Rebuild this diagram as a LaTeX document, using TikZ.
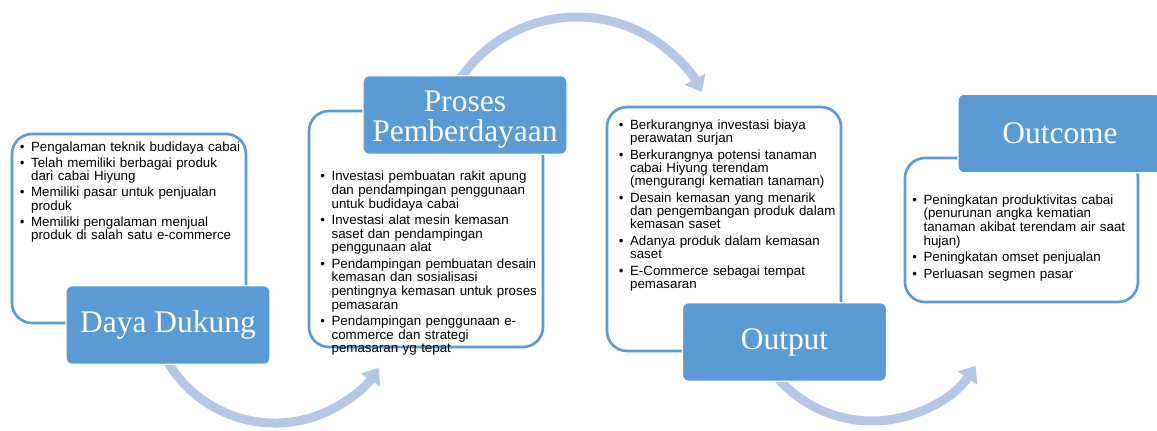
\documentclass[tikz,border=0pt]{standalone}
\usepackage{fontspec}
\setmainfont{Liberation Sans}
\newfontfamily\titlefont{Liberation Serif}
\usepackage{tikz}
\usetikzlibrary{arrows.meta}
\definecolor{boxblue}{HTML}{5B9BD5}
\definecolor{flowblue}{HTML}{B4C7E7}
\newcommand{\itm}[1]{\par\noindent\hangindent=8.5pt\hangafter=1\makebox[8.5pt][l]{\textbullet}{\let\\\newline#1}\par}
\newcommand{\low}[1]{\raisebox{-3.5pt}[\height][\depth]{#1}}
\tikzset{head/.style={rectangle,rounded corners=4.5pt,fill=boxblue,draw=white,line width=1pt,text=white,minimum width=153pt,minimum height=59pt,inner sep=0pt,align=center,font=\titlefont\fontsize{23.6}{22.5}\selectfont}}
\tikzset{panel/.style={rectangle,rounded corners=15pt,draw=boxblue,line width=2pt,fill=white,minimum width=175.5pt,inner sep=0pt}}
\tikzset{items/.style={anchor=north west,inner sep=0pt,text width=190pt}}
\tikzset{flow/.style={draw=flowblue,line width=6.75pt,-{Triangle[length=11pt,width=17pt]}}}

\begin{document}
\begin{tikzpicture}[x=0.75pt,y=0.75pt]
    \useasboundingbox (0,0) rectangle (1157,430);

    \coordinate (c1) at (275,132);
    \coordinate (c2) at (577,271.5);
    \coordinate (c3) at (872,134);
    \draw [flow] (c1) ++(205:93.75pt) arc[start angle=205,end angle=326,radius=93.75pt];
    \draw [flow] (c2) ++(145:106.1pt) arc[start angle=145,end angle=28,radius=106.1pt];
    \draw [flow] (c3) ++(215:93.75pt) arc[start angle=215,end angle=326,radius=93.75pt];

    \node[panel,minimum height=141.75pt] (dukungbox) at (129,201.5) {};
    \node[panel,minimum height=177pt] (prosesbox) at (426,201) {};
    \node[panel,minimum height=183pt] (outputbox) at (724,201) {};
    \node[panel,minimum height=108pt,minimum width=174.75pt] (outcomebox) at (1021.5,200) {};

    \node[items,font=\fontsize{10}{10.3}\selectfont] (dukunglist) at (19.5,294.6) {\setlength\parskip{1.5pt}%
      \itm{Pengalaman teknik budidaya cabai}
      \itm{Telah memiliki berbagai produk\\dari cabai Hiyung}
      \itm{Memiliki pasar untuk penjualan\\produk}
      \itm{Memiliki pengalaman menjual\\produk di salah satu e-commerce}};
    \node[items,font=\fontsize{10}{10.3}\selectfont] (proseslist) at (320,265.6) {\setlength\parskip{1.8pt}%
      \itm{Investasi pembuatan rakit apung\\dan pendampingan penggunaan\\untuk budidaya cabai}
      \itm{Investasi alat mesin kemasan\\saset dan pendampingan\\penggunaan alat}
      \itm{Pendampingan pembuatan desain\\kemasan dan sosialisasi\\pentingnya kemasan untuk proses\\pemasaran}
      \itm{Pendampingan penggunaan e-\\commerce dan strategi\\pemasaran yg tepat}};
    \node[items,font=\fontsize{10}{9.75}\selectfont] (outputlist) at (618.5,318.1) {\setlength\parskip{3pt}%
      \itm{Berkurangnya investasi biaya\\perawatan surjan}
      \itm{Berkurangnya potensi tanaman\\cabai Hiyung terendam\\(mengurangi kematian tanaman)}
      \itm{Desain kemasan yang menarik\\dan pengembangan produk dalam\\kemasan saset}
      \itm{Adanya produk dalam kemasan\\saset}
      \itm{E-Commerce sebagai tempat\\pemasaran}};
    \node[items,font=\fontsize{10}{10.3}\selectfont] (outcomelist) at (912,242.6) {\setlength\parskip{2.1pt}%
      \itm{Peningkatan produktivitas cabai\\(penurunan angka kematian\\tanaman akibat terendam air saat\\hujan)}
      \itm{Peningkatan omset penjualan}
      \itm{Perluasan segmen pasar}};

    \node[head] (dukung) at (168,105) {Daya Dukung};
    \node[head] (proses) at (465,315) {\low{Proses}\\\low{Pemberdayaan}};
    \node[head] (output) at (784.5,88) {Output};
    \node[head] (outcome) at (1060,296.5) {Outcome};
\end{tikzpicture}
\end{document}
